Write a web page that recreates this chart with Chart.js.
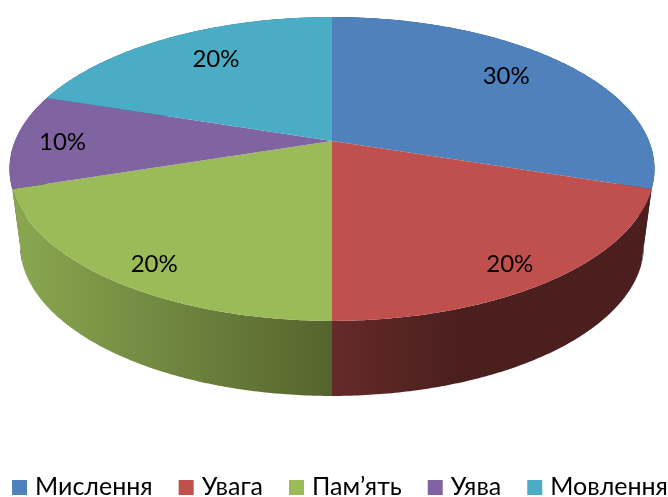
<!DOCTYPE html>
<html lang="uk">
<head>
    <meta charset="UTF-8">
    <title>Pie 3D</title>
    <script src="https://cdn.jsdelivr.net/npm/chart.js"></script>
    <style>
        body { margin: 0; padding: 0; overflow: hidden; background: white; }
        #box { width: 668px; height: 497px; }
    </style>
</head>
<body>
    <div id="box"><canvas id="pie"></canvas></div>
    <script>
        const categories = ['Мислення', 'Увага', 'Пам’ять', 'Уява', 'Мовлення'];
        const values = [30, 20, 20, 10, 20];
        const topColors = ['#4F81BD', '#C0504D', '#9BBB59', '#8064A2', '#4BACC6'];
        const wallLeft = ['#2F4D71', '#652A29', '#8AA850', '#4C3C61', '#2D6776'];
        const wallRight = ['#2F4D71', '#4A1F1E', '#55642E', '#4C3C61', '#2D6776'];
        const labelRadius = [0.77, 0.87, 0.87, 0.85, 0.75];
        const labelNudge = [-3, 2, -2, 0, 3];

        const FONT = 'Lato, "Noto Sans", sans-serif';

        // perspective of the tilted disc: apex position, half axes, foreshortening
        const upper = { x: 332, y: 141, a: 317, b: 146.8, p: -0.184 };
        const lower = { x: 332, y: 217, a: 306.7, b: 146, p: -0.184 };

        function project(d, angle, r) {
            const X = Math.cos(angle) * r, Y = Math.sin(angle) * r;
            const w = 1 + d.p * Y;
            return [d.x + d.a * X / w, d.y + d.b * Y / w];
        }

        function rim(ctx, d, from, to) {
            const n = Math.max(2, Math.ceil(Math.abs(to - from) / 0.01));
            for (let i = 0; i <= n; i++) {
                const pt = project(d, from + (to - from) * i / n, 1);
                ctx.lineTo(pt[0], pt[1]);
            }
        }

        const pie3d = {
            id: 'pie3d',
            beforeDatasetsDraw(chart) {
                const ctx = chart.ctx;
                const arcs = chart.getDatasetMeta(0).data;
                const midY = a => Math.sin((a.startAngle + a.endAngle) / 2);
                const order = arcs.map((a, i) => i).sort((i, j) => midY(arcs[i]) - midY(arcs[j]));

                // side walls, far ones first
                order.forEach(i => {
                    const a = arcs[i];
                    const p0 = project(upper, a.startAngle, 1), p1 = project(upper, a.endAngle, 1);
                    const g = ctx.createLinearGradient(Math.min(p0[0], p1[0]), 0, Math.max(p0[0], p1[0]), 0);
                    g.addColorStop(0, wallLeft[i]);
                    g.addColorStop(i === 1 ? 0.4 : 1, wallRight[i]);
                    g.addColorStop(1, wallRight[i]);
                    ctx.beginPath();
                    rim(ctx, upper, a.startAngle, a.endAngle);
                    rim(ctx, lower, a.endAngle, a.startAngle);
                    ctx.closePath();
                    ctx.fillStyle = g;
                    ctx.fill();
                });

                // top faces
                arcs.forEach((a, i) => {
                    ctx.beginPath();
                    ctx.moveTo(upper.x, upper.y);
                    rim(ctx, upper, a.startAngle, a.endAngle);
                    ctx.closePath();
                    ctx.fillStyle = topColors[i];
                    ctx.fill();
                });

                // percent labels
                const total = values.reduce((s, v) => s + v, 0);
                ctx.fillStyle = '#000';
                ctx.font = '24px ' + FONT;
                ctx.textAlign = 'center';
                ctx.textBaseline = 'middle';
                arcs.forEach((a, i) => {
                    const mid = (a.startAngle + a.endAngle) / 2 + labelNudge[i] * Math.PI / 180;
                    const pt = project(upper, mid, labelRadius[i]);
                    ctx.fillText(Math.round(values[i] / total * 100) + '%', pt[0], pt[1] + 1);
                });

                // legend row: chart.js forces a wider gap after the box, so it is laid out here
                let x = 12;
                ctx.font = '25px ' + FONT;
                ctx.textAlign = 'left';
                ctx.textBaseline = 'alphabetic';
                categories.forEach((name, i) => {
                    ctx.fillStyle = topColors[i];
                    ctx.fillRect(x, 480, 15, 15);
                    ctx.fillStyle = '#000';
                    ctx.fillText(name, x + 23, 495);
                    x += 23 + ctx.measureText(name).width + 26;
                });
                return false;
            }
        };

        new Chart(document.getElementById('pie'), {
            type: 'pie',
            data: {
                labels: categories,
                datasets: [{ data: values, backgroundColor: topColors, borderWidth: 0 }]
            },
            options: {
                responsive: true,
                maintainAspectRatio: false,
                animation: false,
                plugins: {
                    tooltip: { enabled: false },
                    legend: { display: false }
                }
            },
            plugins: [pie3d]
        });
    </script>
</body>
</html>
